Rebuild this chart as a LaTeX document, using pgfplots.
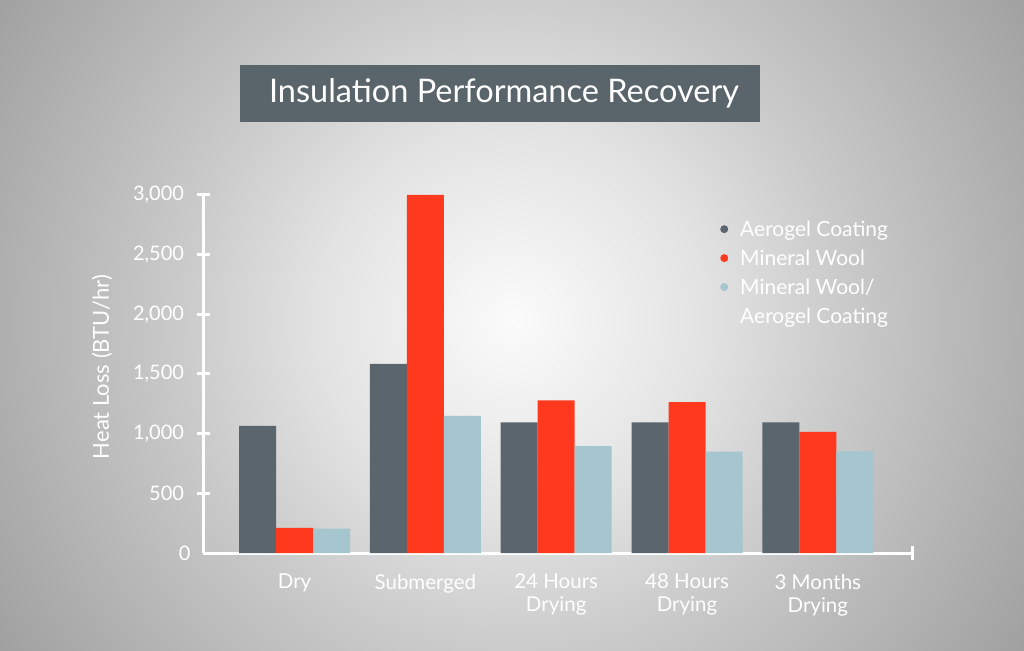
\documentclass[border=0pt]{standalone}
\usepackage{fontspec}
\setmainfont{Lato}
\usepackage{pgfplots}
\pgfplotsset{compat=1.18}

\definecolor{aero}{HTML}{5A656D}
\definecolor{wool}{HTML}{FF391E}
\definecolor{combo}{HTML}{A5C5CF}
\definecolor{titlebox}{HTML}{5A646B}

\pgfdeclareradialshading{bgshade}{\pgfpoint{0bp}{0bp}}{%
  color(0bp)=(white!92!gray!40!white);
  color(8bp)=(black!11);
  color(14bp)=(black!21);
  color(21bp)=(black!31);
  color(26bp)=(black!38);
  color(50bp)=(black!38)}

\begin{document}
\begin{tikzpicture}[x=1pt,y=1pt]
% background
\begin{scope}
  \clip (0,0) rectangle (1024,650);
  \shade[shading=bgshade] (-88,-270) rectangle (1112,930);
\end{scope}
% title box
\fill[titlebox] (240,528) rectangle (760,585);
\node[text=white, font=\fontsize{32.5}{38}\selectfont] at (504,557) {Insulation Performance Recovery};

\begin{axis}[
  at={(203pt,97pt)}, anchor=south west,
  scale only axis,
  width=709pt, height=358pt,
  ymin=0, ymax=3000,
  xmin=-0.70, xmax=4.72,
  enlarge y limits=false,
  ybar=0pt, bar width=37pt,
  axis x line=bottom, axis y line=left,
  axis line style={-, draw=white, line width=3pt},
  ytick={500,1000,1500,2000,2500,3000},
  extra y ticks={0},
  extra y tick style={major tick length=0pt},
  xtick={0,1,2,3,4},
  xticklabels={Dry,Submerged,{24 Hours\\Drying},{48 Hours\\Drying},{3 Months\\Drying}},
  x tick style={draw=none},
  extra x ticks={4.72},
  extra x tick labels={},
  extra x tick style={x tick style={draw=white, line width=3pt}, major tick length=14pt, tick align=center},
  y tick style={draw=white, line width=3pt},
  major tick length=13pt, tick align=center,
  /pgf/number format/assume math mode=true,
  /pgf/number format/1000 sep={,},
  yticklabel style={text=white, font=\fontsize{20}{24}\selectfont, xshift=-9pt},
  xticklabel style={text=white, font=\fontsize{20.5}{23}\selectfont, align=center, yshift=-11pt},
  ylabel={Heat Loss (BTU/hr)},
  ylabel style={at={(axis description cs:-0.1425,0.52)}, anchor=center, text=white, font=\fontsize{22}{26}\selectfont},
  legend style={draw=none, fill=none, at={(axis description cs:0.725,0.94)}, anchor=north west,
    font=\fontsize{21}{25}\selectfont, text=white, row sep=8pt, cells={anchor=west}},
  legend image code/.code={\fill[#1] (0pt,0pt) circle (4pt); \path (14pt,0pt);},
]
\addplot[fill=aero, draw=none] coordinates {(0,1065) (1,1585) (2,1095) (3,1095) (4,1095)};
\addlegendentry{Aerogel Coating}
\addplot[fill=wool, draw=none] coordinates {(0,210) (1,3000) (2,1280) (3,1265) (4,1015)};
\addlegendentry{Mineral Wool}
\addplot[fill=combo, draw=none] coordinates {(0,205) (1,1150) (2,895) (3,850) (4,852)};
\addlegendentry{Mineral Wool/}
\addlegendimage{empty legend}
\addlegendentry[yshift=6pt]{Aerogel Coating}
\end{axis}
\end{tikzpicture}
\end{document}
